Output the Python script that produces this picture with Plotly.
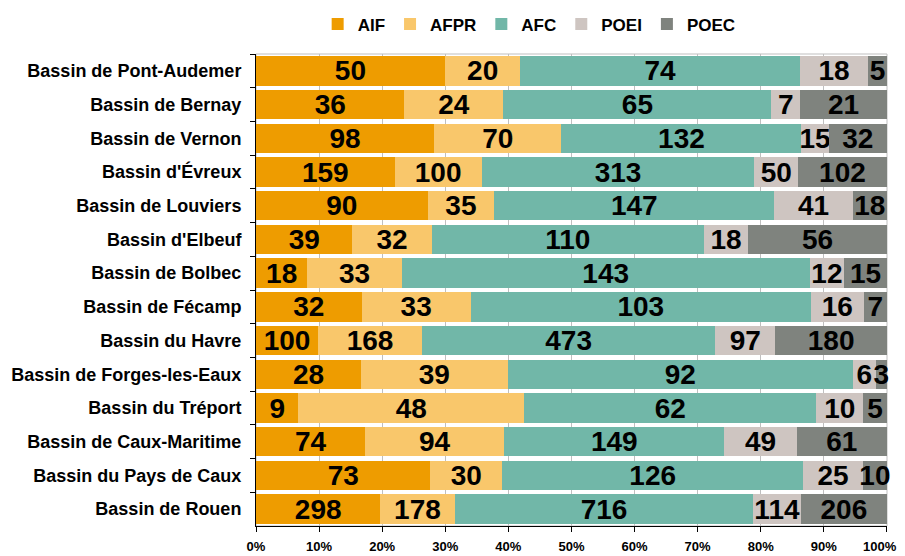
import plotly.graph_objects as go

categories = ["Bassin de Pont-Audemer", "Bassin de Bernay", "Bassin de Vernon", "Bassin d'Évreux",
              "Bassin de Louviers", "Bassin d'Elbeuf", "Bassin de Bolbec", "Bassin de Fécamp",
              "Bassin du Havre", "Bassin de Forges-les-Eaux", "Bassin du Tréport",
              "Bassin de Caux-Maritime", "Bassin du Pays de Caux", "Bassin de Rouen"]
AIF  = [50, 36, 98, 159, 90, 39, 18, 32, 100, 28, 9, 74, 73, 298]
AFPR = [20, 24, 70, 100, 35, 32, 33, 33, 168, 39, 48, 94, 30, 178]
AFC  = [74, 65, 132, 313, 147, 110, 143, 103, 473, 92, 62, 149, 126, 716]
POEI = [18, 7, 15, 50, 41, 18, 12, 16, 97, 6, 10, 49, 25, 114]
POEC = [5, 21, 32, 102, 18, 56, 15, 7, 180, 3, 5, 61, 10, 206]
series_names = ["AIF", "AFPR", "AFC", "POEI", "POEC"]
series_values = [AIF, AFPR, AFC, POEI, POEC]
colors = ["#EE9C00", "#F9C76B", "#71B7A8", "#CEC5C1", "#7F837E"]
tick_vals = list(range(0, 101, 10))
tick_text = [f"{v}%" for v in tick_vals]
# keep the last label inside the visible page edge
tick_text[-1] = tick_text[-1] + "\u00a0" * 4

FONT = "Liberation Sans, Arial, sans-serif"

fig = go.Figure()
for name, vals, col in zip(series_names, series_values, colors):
    fig.add_trace(go.Bar(
        y=categories, x=vals, name=name, orientation="h",
        marker=dict(color=col, line=dict(width=0)),
        text=vals, texttemplate="%{text}", textposition="inside",
        insidetextanchor="middle", textangle=0, cliponaxis=False,
        textfont=dict(family=FONT, size=28, color="black", weight="bold"),
        hoverinfo="skip",
    ))

# page body adds an 8px offset, so the figure is 897x548
fig.update_layout(
    width=897, height=548,
    barmode="stack", barnorm="percent", bargap=0.13,
    paper_bgcolor="white", plot_bgcolor="white",
    margin=dict(l=248, r=18, t=46, b=30, autoexpand=False),
    uniformtext=dict(minsize=28, mode="show"),
    font=dict(family=FONT, color="black"),
    legend=dict(orientation="h", xref="container", yref="container",
                x=0.581, xanchor="center", y=0.97, yanchor="middle",
                font=dict(family=FONT, size=17, color="black", weight="bold"),
                itemwidth=30, tracegroupgap=0, traceorder="normal",
                bgcolor="rgba(0,0,0,0)"),
    showlegend=True,
)
fig.update_xaxes(range=[0, 100.02], tickvals=tick_vals, ticktext=tick_text,
                 showgrid=True, gridcolor="#BFBFBF", gridwidth=1,
                 showline=True, linecolor="black", linewidth=1,
                 ticks="outside", ticklen=5, tickcolor="black",
                 ticklabeloverflow="allow", ticklabelstandoff=3,
                 tickfont=dict(family=FONT, size=13, color="black", weight="bold"),
                 zeroline=False, fixedrange=True, automargin=False)
fig.update_yaxes(categoryorder="array", categoryarray=categories, autorange="reversed",
                 showline=True, linecolor="black", linewidth=1,
                 ticks="outside", ticklen=5, tickcolor="black", tickson="boundaries",
                 tickfont=dict(family=FONT, size=18, color="black", weight="bold"),
                 showgrid=False, ticksuffix="  ", fixedrange=True, automargin=False)
fig.add_shape(type="rect", xref="paper", yref="paper", x0=0, x1=1, y0=0, y1=1,
              line=dict(color="#BFBFBF", width=1), layer="below")

fig.write_html("out.html")
